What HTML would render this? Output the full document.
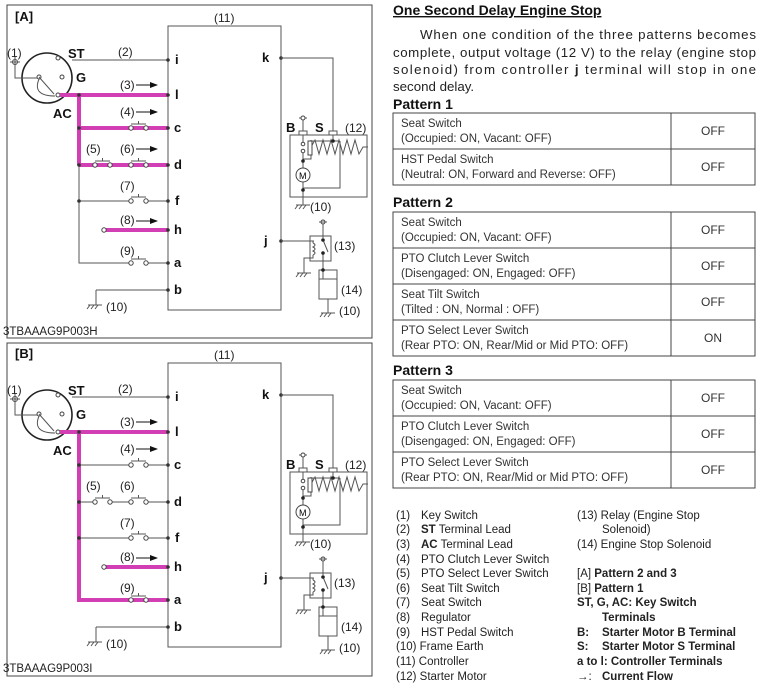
<!DOCTYPE html>
<html><head><meta charset="utf-8"><style>
html,body{margin:0;padding:0;background:#fff}
svg{display:block;font-family:"Liberation Sans",Arial,sans-serif}
.w{stroke:#555;stroke-width:1;fill:none}
.m{stroke:#d23fb4;stroke-width:4;fill:none}
.t{font-size:12px;fill:#222}
.b{font-size:13px;font-weight:bold;fill:#111}
.tt{font-size:11.5px;fill:#333}
.lg{font-size:11.5px;fill:#222}
.lb{font-size:11.5px;fill:#222;font-weight:bold}
</style></head><body>
<svg width="762" height="683" viewBox="0 0 762 683">
<defs>
<marker id="ar" markerWidth="8" markerHeight="6" refX="7" refY="3" orient="auto"><path d="M0,0 L8,3 L0,6z" fill="#111"/></marker>
</defs>

<!-- ============ PANEL A ============ -->
<rect x="7" y="5" width="365" height="333" fill="none" stroke="#444"/>
<text x="15" y="21" class="b">[A]</text>
<text x="3" y="335" class="t" style="font-size:11.5px">3TBAAAG9P003H</text>
<g>
<rect x="168" y="26" width="113" height="284" class="w"/>
<text x="214" y="22" class="t">(11)</text>
<circle cx="47" cy="78" r="25" fill="none" stroke="#222" stroke-width="1.6"/>
<circle cx="58" cy="58" r="2" fill="#fff" stroke="#444"/>
<circle cx="62" cy="77" r="2" fill="#fff" stroke="#444"/>
<circle cx="58" cy="95" r="2" fill="#fff" stroke="#444"/>
<circle cx="39" cy="77" r="2" fill="#fff" stroke="#444"/>
<path d="M15,64 V78 H37 M39,77 L54,94 M39,79 Q32,96 55,96" class="w"/>
<circle cx="15" cy="62" r="2.5" fill="#fff" stroke="#444"/><path d="M10,62 H20 M15,57 V67" class="w"/>
<text x="7" y="57" class="t">(1)</text>
<text x="68" y="58" class="b">ST</text>
<text x="76" y="82" class="b">G</text>
<text x="53" y="118" class="b">AC</text>
<path d="M72,60 H168" class="w"/>
<path d="M79,165 V263 H129 M148,263 H168" class="w"/>
<path d="M79,201 H129 M148,201 H168" class="w"/>
<path d="M96,290 V305" class="w"/><path d="M96,290 H168" class="w"/>
<path d="M60,95 H168 M79,95 V165 M79,128 H168 M79,165 H168 M104,230 H168" class="m"/>
<g class="w" stroke="#333">
<path d="M131,124 H146 M138.5,124 V121"/><path d="M131,161 H146 M138.5,161 V158"/><path d="M95,161 H110 M102.5,161 V158"/>
<path d="M131,197 H146 M138.5,197 V194"/><path d="M131,259 H146 M138.5,259 V256"/>
</g>
<g fill="#fff" stroke="#444">
<circle cx="131" cy="128" r="2.2"/><circle cx="146" cy="128" r="2.2"/>
<circle cx="131" cy="165" r="2.2"/><circle cx="146" cy="165" r="2.2"/>
<circle cx="95" cy="165" r="2.2"/><circle cx="110" cy="165" r="2.2"/>
<circle cx="131" cy="201" r="2.2"/><circle cx="146" cy="201" r="2.2"/>
<circle cx="131" cy="263" r="2.2"/><circle cx="146" cy="263" r="2.2"/>
<circle cx="104" cy="230" r="2.2"/>
</g>
<g fill="#333"><circle cx="79" cy="95" r="1.8"/><circle cx="79" cy="128" r="1.8"/><circle cx="79" cy="165" r="1.8"/><circle cx="79" cy="201" r="1.8"/>
<circle cx="168" cy="60" r="1.8"/><circle cx="168" cy="95" r="1.8"/><circle cx="168" cy="128" r="1.8"/><circle cx="168" cy="165" r="1.8"/><circle cx="168" cy="201" r="1.8"/><circle cx="168" cy="230" r="1.8"/><circle cx="168" cy="263" r="1.8"/><circle cx="168" cy="290" r="1.8"/><circle cx="281" cy="58" r="1.8"/><circle cx="281" cy="241" r="1.8"/></g>
<text x="118" y="56" class="t">(2)</text>
<text x="120" y="89" class="t">(3)</text><path d="M136,85 H157" stroke="#111" marker-end="url(#ar)"/>
<text x="120" y="116" class="t">(4)</text><path d="M136,112 H157" stroke="#111" marker-end="url(#ar)"/>
<text x="86" y="153" class="t">(5)</text>
<text x="120" y="153" class="t">(6)</text><path d="M136,149 H157" stroke="#111" marker-end="url(#ar)"/>
<text x="120" y="190" class="t">(7)</text>
<text x="120" y="224" class="t">(8)</text><path d="M136,221 H157" stroke="#111" marker-end="url(#ar)"/>
<text x="120" y="255" class="t">(9)</text>
<g class="b"><text x="175" y="64">i</text><text x="175" y="99">l</text><text x="174" y="132">c</text><text x="174" y="169">d</text><text x="175" y="205">f</text><text x="174" y="234">h</text><text x="174" y="267">a</text><text x="174" y="294">b</text><text x="262" y="62">k</text><text x="264" y="245">j</text></g>
<path d="M88,305 H102 M90,305 l-3,4 M94,305 l-3,4 M98,305 l-3,4" class="w"/>
<text x="106" y="311" class="t">(10)</text>
<path d="M281,58 H333 V131" class="w"/>
<rect x="290" y="135" width="77" height="62" class="w"/>
<rect x="299" y="131" width="8" height="4" class="w"/><rect x="329" y="131" width="8" height="4" class="w"/>
<path d="M303,131 V118 M299,118 H307" class="w"/><circle cx="303" cy="118" r="2" fill="#fff" stroke="#444"/>
<text x="286" y="132" class="b">B</text><text x="315" y="132" class="b">S</text><text x="345" y="132" class="t">(12)</text>
<path d="M333,135 V141 M311,141 H339 M303,135 V142 M303,150 V168 M303,182 V205 M311,140 V159 H303 M311,147 L315,140 L319,154 L323,140 L327,154 L331,140 L335,154 L339,140 L343,154 L347,140 L351,154 L355,140 L359,154 L363,147 H368 M340,141 V188 H303" class="w"/>
<circle cx="303" cy="144" r="1.8" fill="#fff" stroke="#444"/><circle cx="303" cy="151" r="1.8" fill="#fff" stroke="#444"/>
<rect x="308" y="141" width="4" height="14" fill="#fff" stroke="#444"/>
<circle cx="303" cy="175" r="7" fill="#fff" stroke="#444"/><text x="299" y="179" style="font-size:9px">M</text>
<circle cx="333" cy="141" r="1.8" fill="#222"/><circle cx="303" cy="161" r="1.8" fill="#222"/><circle cx="303" cy="190" r="1.8" fill="#222"/>
<path d="M296,205 H310 M298,205 l-3,4 M302,205 l-3,4 M306,205 l-3,4" class="w"/>
<text x="310" y="211" class="t">(10)</text>
<path d="M281,241 H314" class="w"/>
<rect x="310" y="236" width="21" height="25" class="w"/>
<path d="M323,223 V238 M323,240 L328,252 M323,253 V279 M319,279 V270 H337 V279" class="w"/>
<circle cx="323" cy="222" r="2" fill="#fff" stroke="#444"/><path d="M319,222 H327" class="w"/>
<path d="M313,243 q4,2 0,4 q4,2 0,4 q4,2 0,4 M313,243 V241 M313,255 V258 H304 V273" class="w"/>
<path d="M297,273 H311 M299,273 l-3,4 M303,273 l-3,4 M307,273 l-3,4" class="w"/>
<circle cx="323" cy="240" r="1.8" fill="#222"/><circle cx="323" cy="253" r="1.8" fill="#222"/><circle cx="323" cy="270" r="1.8" fill="#222"/>
<text x="334" y="250" class="t">(13)</text>
<rect x="319" y="279" width="18" height="20" class="w"/>
<path d="M328,299 V313 M321,313 H335 M323,313 l-3,4 M327,313 l-3,4 M331,313 l-3,4" class="w"/>
<text x="341" y="294" class="t">(14)</text>
<text x="339" y="315" class="t">(10)</text>
</g>

<!-- ============ PANEL B ============ -->
<rect x="7" y="343" width="365" height="333" fill="none" stroke="#444"/>
<text x="15" y="358" class="b">[B]</text>
<text x="3" y="672" class="t" style="font-size:11.5px">3TBAAAG9P003I</text>
<g transform="translate(0,337)">
<rect x="168" y="26" width="113" height="284" class="w"/>
<text x="214" y="22" class="t">(11)</text>
<circle cx="47" cy="78" r="25" fill="none" stroke="#222" stroke-width="1.6"/>
<circle cx="58" cy="58" r="2" fill="#fff" stroke="#444"/>
<circle cx="62" cy="77" r="2" fill="#fff" stroke="#444"/>
<circle cx="58" cy="95" r="2" fill="#fff" stroke="#444"/>
<circle cx="39" cy="77" r="2" fill="#fff" stroke="#444"/>
<path d="M15,64 V78 H37 M39,77 L54,94 M39,79 Q32,96 55,96" class="w"/>
<circle cx="15" cy="62" r="2.5" fill="#fff" stroke="#444"/><path d="M10,62 H20 M15,57 V67" class="w"/>
<text x="7" y="57" class="t">(1)</text>
<text x="68" y="58" class="b">ST</text>
<text x="76" y="82" class="b">G</text>
<text x="53" y="118" class="b">AC</text>
<path d="M72,60 H168" class="w"/>
<path d="M79,128 H129 M148,128 H168" class="w"/>
<path d="M79,165 H93 M112,165 H129 M148,165 H168" class="w"/>
<path d="M79,201 H129 M148,201 H168" class="w"/>
<path d="M96,290 V305" class="w"/><path d="M96,290 H168" class="w"/>
<path d="M60,95 H168 M79,95 V263 H168 M104,230 H168" class="m"/>
<g class="w" stroke="#333">
<path d="M131,124 H146 M138.5,124 V121"/><path d="M131,161 H146 M138.5,161 V158"/><path d="M95,161 H110 M102.5,161 V158"/>
<path d="M131,197 H146 M138.5,197 V194"/><path d="M131,259 H146 M138.5,259 V256"/>
</g>
<g fill="#fff" stroke="#444">
<circle cx="131" cy="128" r="2.2"/><circle cx="146" cy="128" r="2.2"/>
<circle cx="131" cy="165" r="2.2"/><circle cx="146" cy="165" r="2.2"/>
<circle cx="95" cy="165" r="2.2"/><circle cx="110" cy="165" r="2.2"/>
<circle cx="131" cy="201" r="2.2"/><circle cx="146" cy="201" r="2.2"/>
<circle cx="131" cy="263" r="2.2"/><circle cx="146" cy="263" r="2.2"/>
<circle cx="104" cy="230" r="2.2"/>
</g>
<g fill="#333"><circle cx="79" cy="95" r="1.8"/><circle cx="79" cy="128" r="1.8"/><circle cx="79" cy="165" r="1.8"/><circle cx="79" cy="201" r="1.8"/>
<circle cx="168" cy="60" r="1.8"/><circle cx="168" cy="95" r="1.8"/><circle cx="168" cy="128" r="1.8"/><circle cx="168" cy="165" r="1.8"/><circle cx="168" cy="201" r="1.8"/><circle cx="168" cy="230" r="1.8"/><circle cx="168" cy="263" r="1.8"/><circle cx="168" cy="290" r="1.8"/><circle cx="281" cy="58" r="1.8"/><circle cx="281" cy="241" r="1.8"/></g>
<text x="118" y="56" class="t">(2)</text>
<text x="120" y="89" class="t">(3)</text><path d="M136,85 H157" stroke="#111" marker-end="url(#ar)"/>
<text x="120" y="116" class="t">(4)</text><path d="M136,112 H157" stroke="#111" marker-end="url(#ar)"/>
<text x="86" y="153" class="t">(5)</text>
<text x="120" y="153" class="t">(6)</text>
<text x="120" y="190" class="t">(7)</text>
<text x="120" y="224" class="t">(8)</text><path d="M136,221 H157" stroke="#111" marker-end="url(#ar)"/>
<text x="120" y="255" class="t">(9)</text>
<g class="b"><text x="175" y="64">i</text><text x="175" y="99">l</text><text x="174" y="132">c</text><text x="174" y="169">d</text><text x="175" y="205">f</text><text x="174" y="234">h</text><text x="174" y="267">a</text><text x="174" y="294">b</text><text x="262" y="62">k</text><text x="264" y="245">j</text></g>
<path d="M88,305 H102 M90,305 l-3,4 M94,305 l-3,4 M98,305 l-3,4" class="w"/>
<text x="106" y="311" class="t">(10)</text>
<path d="M281,58 H333 V131" class="w"/>
<rect x="290" y="135" width="77" height="62" class="w"/>
<rect x="299" y="131" width="8" height="4" class="w"/><rect x="329" y="131" width="8" height="4" class="w"/>
<path d="M303,131 V118 M299,118 H307" class="w"/><circle cx="303" cy="118" r="2" fill="#fff" stroke="#444"/>
<text x="286" y="132" class="b">B</text><text x="315" y="132" class="b">S</text><text x="345" y="132" class="t">(12)</text>
<path d="M333,135 V141 M311,141 H339 M303,135 V142 M303,150 V168 M303,182 V205 M311,140 V159 H303 M311,147 L315,140 L319,154 L323,140 L327,154 L331,140 L335,154 L339,140 L343,154 L347,140 L351,154 L355,140 L359,154 L363,147 H368 M340,141 V188 H303" class="w"/>
<circle cx="303" cy="144" r="1.8" fill="#fff" stroke="#444"/><circle cx="303" cy="151" r="1.8" fill="#fff" stroke="#444"/>
<rect x="308" y="141" width="4" height="14" fill="#fff" stroke="#444"/>
<circle cx="303" cy="175" r="7" fill="#fff" stroke="#444"/><text x="299" y="179" style="font-size:9px">M</text>
<circle cx="333" cy="141" r="1.8" fill="#222"/><circle cx="303" cy="161" r="1.8" fill="#222"/><circle cx="303" cy="190" r="1.8" fill="#222"/>
<path d="M296,205 H310 M298,205 l-3,4 M302,205 l-3,4 M306,205 l-3,4" class="w"/>
<text x="310" y="211" class="t">(10)</text>
<path d="M281,241 H314" class="w"/>
<rect x="310" y="236" width="21" height="25" class="w"/>
<path d="M323,223 V238 M323,240 L328,252 M323,253 V279 M319,279 V270 H337 V279" class="w"/>
<circle cx="323" cy="222" r="2" fill="#fff" stroke="#444"/><path d="M319,222 H327" class="w"/>
<path d="M313,243 q4,2 0,4 q4,2 0,4 q4,2 0,4 M313,243 V241 M313,255 V258 H304 V273" class="w"/>
<path d="M297,273 H311 M299,273 l-3,4 M303,273 l-3,4 M307,273 l-3,4" class="w"/>
<circle cx="323" cy="240" r="1.8" fill="#222"/><circle cx="323" cy="253" r="1.8" fill="#222"/><circle cx="323" cy="270" r="1.8" fill="#222"/>
<text x="334" y="250" class="t">(13)</text>
<rect x="319" y="279" width="18" height="20" class="w"/>
<path d="M328,299 V313 M321,313 H335 M323,313 l-3,4 M327,313 l-3,4 M331,313 l-3,4" class="w"/>
<text x="341" y="294" class="t">(14)</text>
<text x="339" y="315" class="t">(10)</text>
</g>

<!-- ============ RIGHT TEXT ============ -->
<text x="393" y="15" style="font-size:14px;font-weight:bold;text-decoration:underline" fill="#111">One Second Delay Engine Stop</text>
<g style="font-size:13.3px" fill="#222">
<text x="420" y="39" textLength="336" lengthAdjust="spacing">When one condition of the three patterns becomes</text>
<text x="393" y="57" textLength="363" lengthAdjust="spacing">complete, output voltage (12 V) to the relay (engine stop</text>
<text x="393" y="74" textLength="363" lengthAdjust="spacing">solenoid) from controller <tspan font-weight="bold">j</tspan> terminal will stop in one</text>
<text x="393" y="91">second delay.</text>
</g>
<g style="font-size:14px;font-weight:bold" fill="#111">
<text x="393" y="109">Pattern 1</text>
<text x="393" y="207">Pattern 2</text>
<text x="393" y="375">Pattern 3</text>
</g>
<g fill="none" stroke="#444" stroke-width="1">
<rect x="393" y="113" width="362" height="72"/><path d="M393,149 H755 M671,113 V185"/>
<rect x="393" y="212" width="362" height="144"/><path d="M393,248 H755 M393,284 H755 M393,320 H755 M671,212 V356"/>
<rect x="393" y="380" width="362" height="108"/><path d="M393,416 H755 M393,452 H755 M671,380 V488"/>
</g>
<g class="tt">
<text x="401" y="127">Seat Switch</text><text x="401" y="142">(Occupied: ON, Vacant: OFF)</text>
<text x="401" y="163">HST Pedal Switch</text><text x="401" y="178">(Neutral: ON, Forward and Reverse: OFF)</text>
<text x="401" y="226">Seat Switch</text><text x="401" y="241">(Occupied: ON, Vacant: OFF)</text>
<text x="401" y="262">PTO Clutch Lever Switch</text><text x="401" y="277">(Disengaged: ON, Engaged: OFF)</text>
<text x="401" y="298">Seat Tilt Switch</text><text x="401" y="313">(Tilted : ON, Normal : OFF)</text>
<text x="401" y="334">PTO Select Lever Switch</text><text x="401" y="349">(Rear PTO: ON, Rear/Mid or Mid PTO: OFF)</text>
<text x="401" y="394">Seat Switch</text><text x="401" y="409">(Occupied: ON, Vacant: OFF)</text>
<text x="401" y="430">PTO Clutch Lever Switch</text><text x="401" y="445">(Disengaged: ON, Engaged: OFF)</text>
<text x="401" y="466">PTO Select Lever Switch</text><text x="401" y="481">(Rear PTO: ON, Rear/Mid or Mid PTO: OFF)</text>
</g>
<g class="tt" text-anchor="middle" style="font-size:12px">
<text x="713" y="135">OFF</text><text x="713" y="171">OFF</text>
<text x="713" y="234">OFF</text><text x="713" y="270">OFF</text><text x="713" y="306">OFF</text><text x="713" y="342">ON</text>
<text x="713" y="402">OFF</text><text x="713" y="438">OFF</text><text x="713" y="474">OFF</text>
</g>
<g class="lg">
<text x="396" y="519">(1)</text><text x="421" y="519">Key Switch</text>
<text x="396" y="533">(2)</text><text x="421" y="533"><tspan font-weight="bold">ST</tspan> Terminal Lead</text>
<text x="396" y="548">(3)</text><text x="421" y="548"><tspan font-weight="bold">AC</tspan> Terminal Lead</text>
<text x="396" y="563">(4)</text><text x="421" y="563">PTO Clutch Lever Switch</text>
<text x="396" y="577">(5)</text><text x="421" y="577">PTO Select Lever Switch</text>
<text x="396" y="592">(6)</text><text x="421" y="592">Seat Tilt Switch</text>
<text x="396" y="606">(7)</text><text x="421" y="606">Seat Switch</text>
<text x="396" y="621">(8)</text><text x="421" y="621">Regulator</text>
<text x="396" y="636">(9)</text><text x="421" y="636">HST Pedal Switch</text>
<text x="396" y="650">(10) Frame Earth</text>
<text x="396" y="665">(11) Controller</text>
<text x="396" y="680">(12) Starter Motor</text>
<text x="577" y="519">(13) Relay (Engine Stop</text>
<text x="602" y="533">Solenoid)</text>
<text x="577" y="548">(14) Engine Stop Solenoid</text>
</g>
<g class="lb">
<text x="577" y="577"><tspan font-weight="normal">[A]</tspan>  Pattern 2 and 3</text>
<text x="577" y="592"><tspan font-weight="normal">[B]</tspan>  Pattern 1</text>
<text x="577" y="606">ST, G, AC: Key Switch</text>
<text x="602" y="621">Terminals</text>
<text x="577" y="636">B:</text><text x="602" y="636">Starter Motor B Terminal</text>
<text x="577" y="650">S:</text><text x="602" y="650">Starter Motor S Terminal</text>
<text x="577" y="665">a to l: Controller Terminals</text>
<text x="577" y="680" font-weight="normal">→:</text><text x="602" y="680">Current Flow</text>
</g>
</svg>
</body></html>
